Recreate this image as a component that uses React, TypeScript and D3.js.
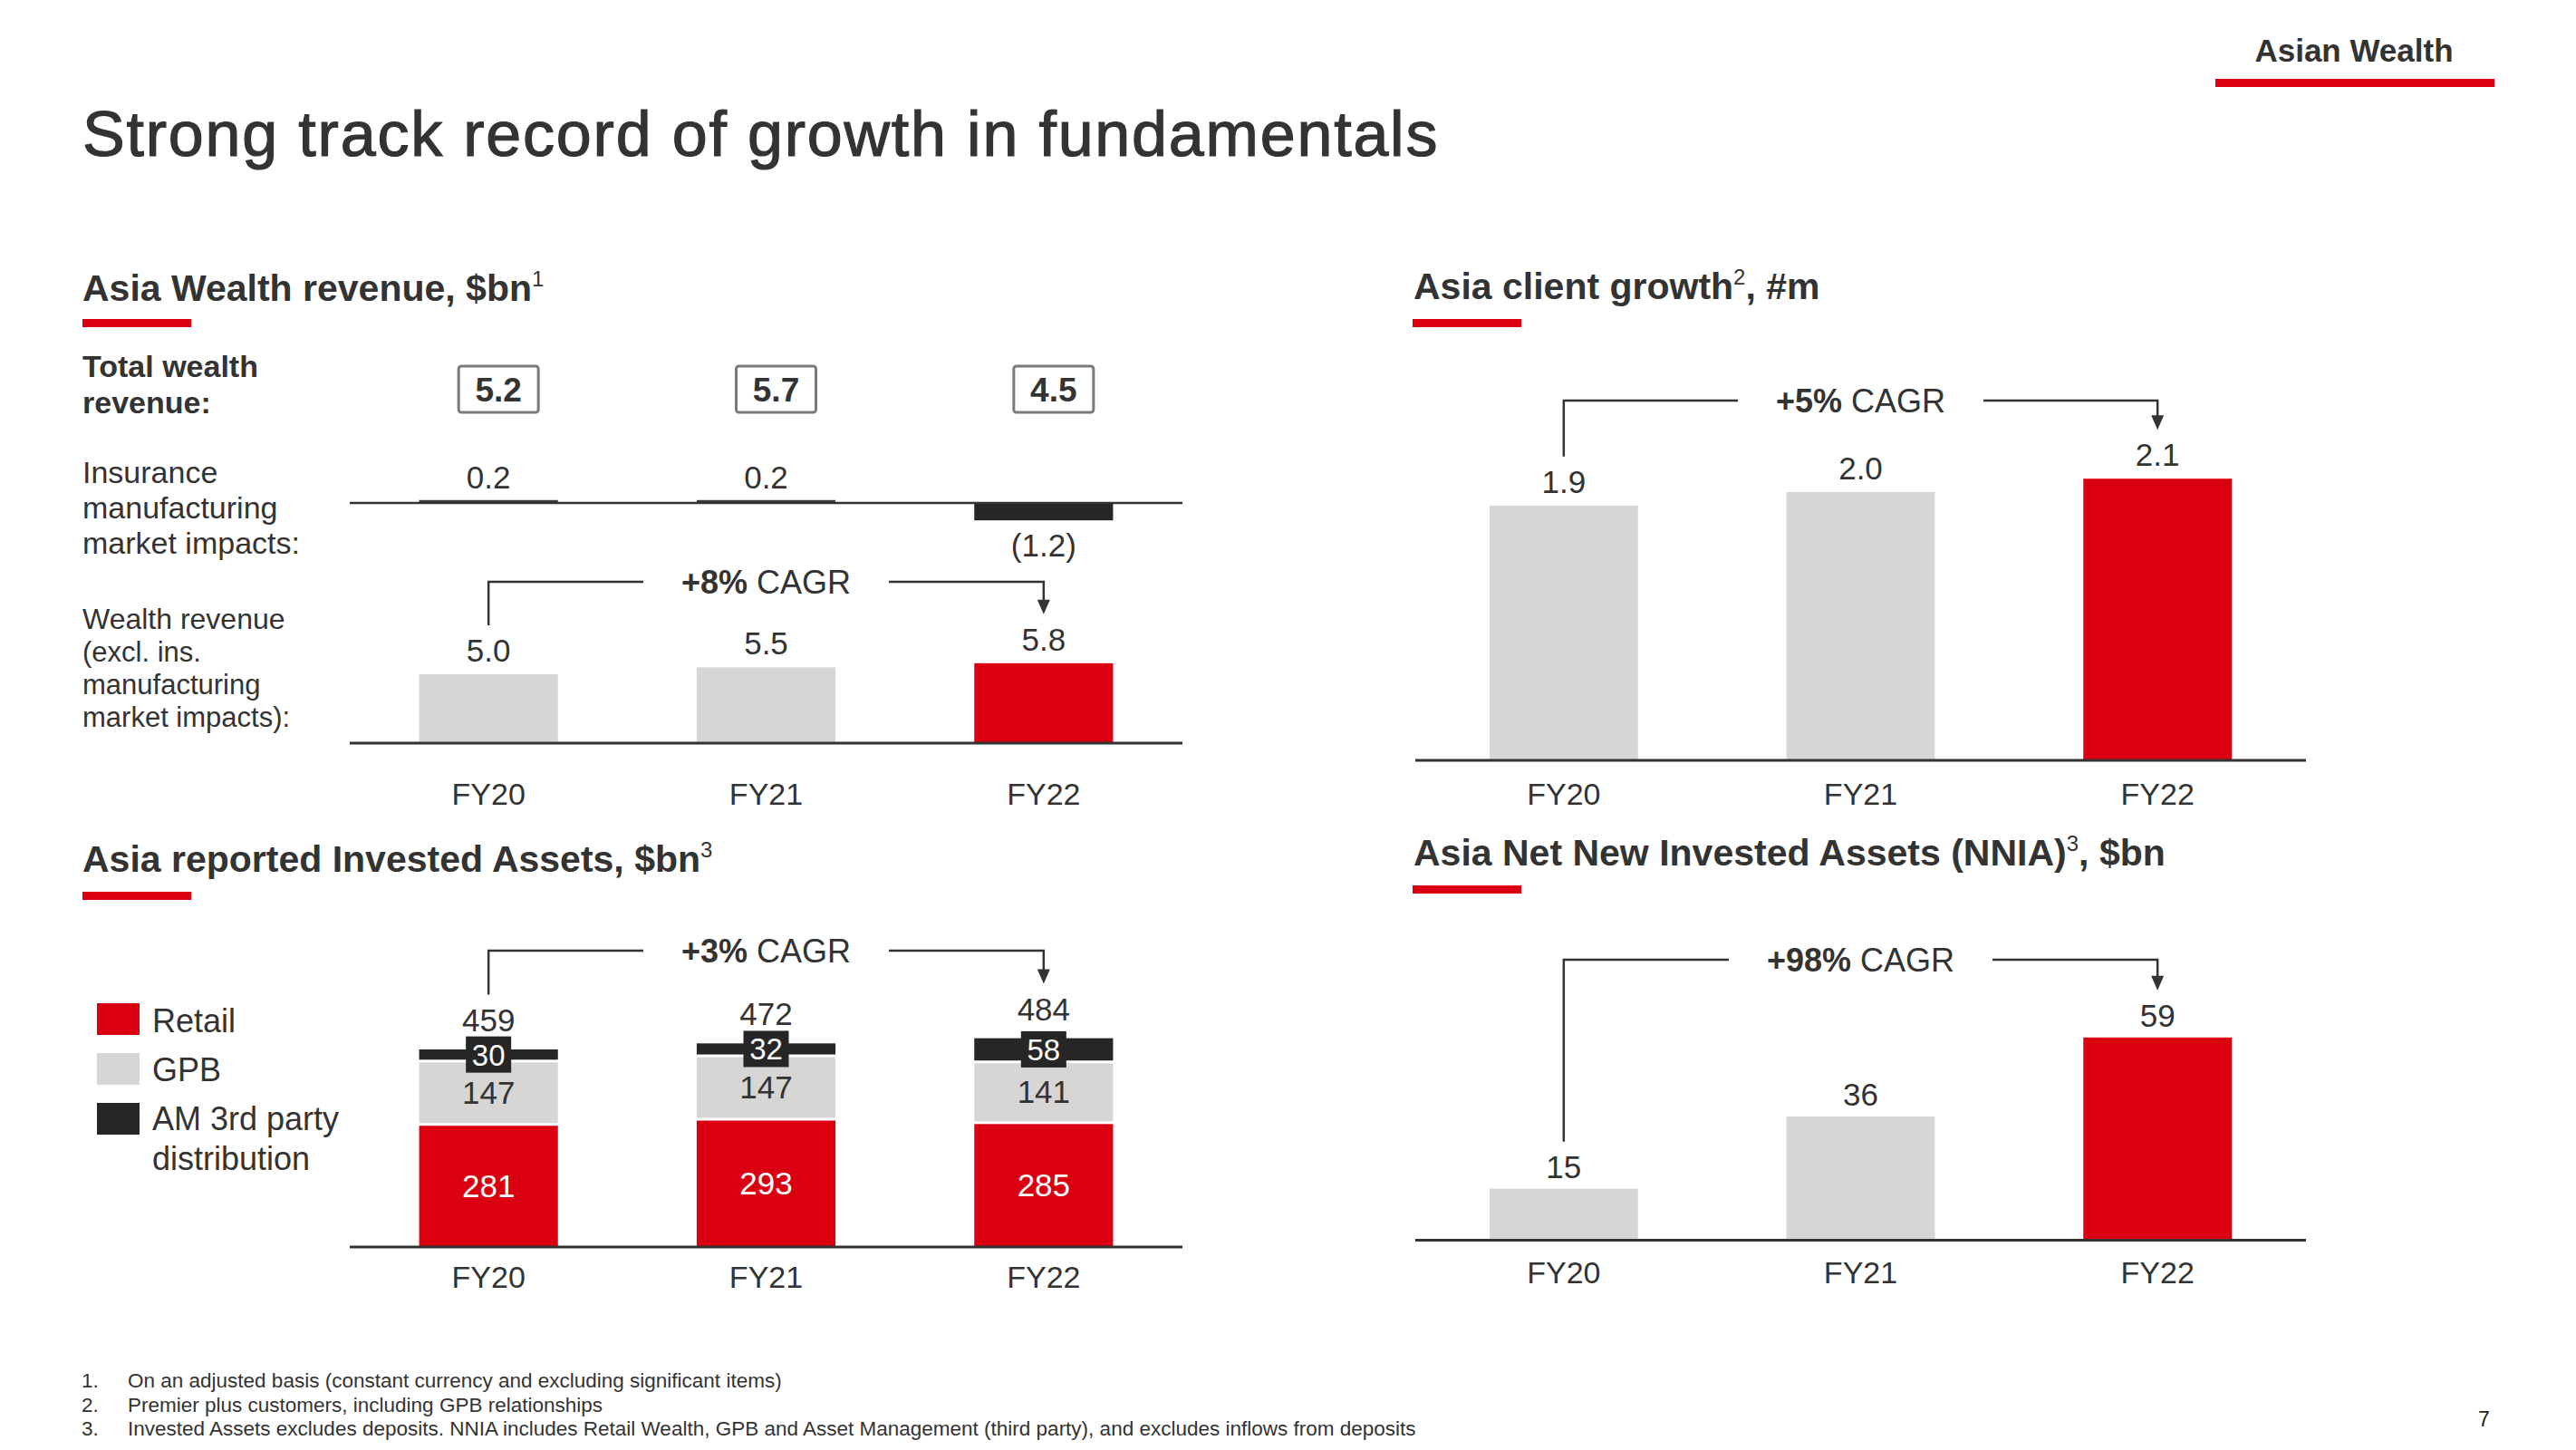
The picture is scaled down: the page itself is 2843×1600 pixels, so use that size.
import React, { useEffect, useRef } from 'react';
import * as d3 from 'd3';

// ---------------- DATA ----------------
const YEARS = ['FY20', 'FY21', 'FY22'];
const TOTAL_WEALTH_REVENUE = [5.2, 5.7, 4.5];
const INSURANCE_IMPACTS = [0.2, 0.2, -1.2];
const WEALTH_REVENUE_EXCL = [5.0, 5.5, 5.8];
const CLIENTS_M = [1.9, 2.0, 2.1];
const IA_RETAIL = [281, 293, 285];
const IA_GPB = [147, 147, 141];
const IA_AM = [30, 32, 58];
const IA_TOTAL = [459, 472, 484];
const NNIA = [15, 36, 59];
const CAGR_REVENUE = '+8%';
const CAGR_CLIENTS = '+5%';
const CAGR_IA = '+3%';
const CAGR_NNIA = '+98%';
const IA_SERIES = ['Retail', 'GPB', 'AM 3rd party distribution'];
const FOOTNOTES = [
  'On an adjusted basis (constant currency and excluding significant items)',
  'Premier plus customers, including GPB relationships',
  'Invested Assets excludes deposits. NNIA includes Retail Wealth, GPB and Asset Management (third party), and excludes inflows from deposits',
];

// ---------------- STYLE ----------------
const W = 2843;
const H = 1600;
const FONT = "'Liberation Sans', Arial, Helvetica, sans-serif";
const RED = '#DB0011';
const GREY = '#D7D6D5';
const DARK = '#262626';
const TEXT = '#333333';

export default function App() {
  const ref = useRef<SVGSVGElement | null>(null);

  useEffect(() => {
    document.body.style.margin = '0';
    const svg = d3.select(ref.current);
    svg.selectAll('*').remove();

    const txt = (
      g: any,
      x: number,
      y: number,
      s: string,
      size: number,
      opts: { weight?: number | string; anchor?: string; fill?: string } = {}
    ) =>
      g
        .append('text')
        .attr('x', x)
        .attr('y', y)
        .attr('font-family', FONT)
        .attr('font-size', size)
        .attr('font-weight', opts.weight ?? 400)
        .attr('text-anchor', opts.anchor ?? 'start')
        .attr('fill', opts.fill ?? TEXT)
        .text(s);

    // heading with superscript
    const heading = (x: number, y: number, parts: [string, boolean][]) => {
      const t = svg
        .append('text')
        .attr('x', x)
        .attr('y', y)
        .attr('font-family', FONT)
        .attr('font-size', 41)
        .attr('font-weight', 700)
        .attr('fill', TEXT);
      parts.forEach(([s, sup]) => {
        if (sup) {
          t.append('tspan').attr('font-size', 24).attr('font-weight', 400).attr('dy', -16).text(s);
        } else {
          const ts = t.append('tspan').text(s);
          if (t.selectAll('tspan').size() > 1) ts.attr('dy', 16);
        }
      });
    };
    const underline = (x: number, y: number) =>
      svg.append('rect').attr('x', x).attr('y', y).attr('width', 120).attr('height', 9).attr('fill', RED);

    const fmt1 = (v: number) => (v < 0 ? `(${d3.format('.1f')(-v)})` : d3.format('.1f')(v));

    // CAGR bracket
    const bracket = (
      x0: number,
      x1: number,
      yLine: number,
      yLeftEnd: number,
      yTip: number,
      bold: string
    ) => {
      const g = svg.append('g');
      const cx = (x0 + x1) / 2;
      const t = g
        .append('text')
        .attr('x', cx)
        .attr('y', yLine + 13)
        .attr('font-family', FONT)
        .attr('font-size', 36)
        .attr('text-anchor', 'middle')
        .attr('fill', TEXT);
      t.append('tspan').attr('font-weight', 700).text(bold);
      t.append('tspan').text(' CAGR');
      const tw = (t.node() as SVGTextElement).getComputedTextLength();
      const gap = tw / 2 + 42;
      const line = d3.line();
      g.append('path')
        .attr('d', line([[x0, yLeftEnd], [x0, yLine], [cx - gap, yLine]]))
        .attr('fill', 'none')
        .attr('stroke', TEXT)
        .attr('stroke-width', 2.5);
      g.append('path')
        .attr('d', line([[cx + gap, yLine], [x1, yLine], [x1, yTip - 14]]))
        .attr('fill', 'none')
        .attr('stroke', TEXT)
        .attr('stroke-width', 2.5);
      g.append('path')
        .attr('d', `M${x1 - 7},${yTip - 16}L${x1 + 7},${yTip - 16}L${x1},${yTip}Z`)
        .attr('fill', TEXT);
    };

    const axisLine = (x0: number, x1: number, y: number) =>
      svg
        .append('line')
        .attr('x1', x0)
        .attr('x2', x1)
        .attr('y1', y)
        .attr('y2', y)
        .attr('stroke', TEXT)
        .attr('stroke-width', 3);

    const barColor = (i: number) => (i === YEARS.length - 1 ? RED : GREY);

    // ---------------- Page header ----------------
    txt(svg, 91, 172, 'Strong track record of growth in fundamentals', 70, { weight: 400 })
      .attr('letter-spacing', 1.8)
      .attr('stroke', TEXT)
      .attr('stroke-width', 1.2);
    txt(svg, 2598, 68, 'Asian Wealth', 35, { weight: 700, anchor: 'middle' });
    svg.append('rect').attr('x', 2445).attr('y', 87).attr('width', 308).attr('height', 9).attr('fill', RED);

    // ---------------- Panel A: Asia Wealth revenue ----------------
    heading(91, 332, [['Asia Wealth revenue, $bn', false], ['1', true]]);
    underline(91, 352);
    const xA = d3.scaleBand<string>().domain(YEARS).range([386, 1305]).paddingInner(0.5).paddingOuter(0.25);
    const cA = (d: string) => (xA(d) as number) + xA.bandwidth() / 2;

    txt(svg, 91, 416, 'Total wealth', 34, { weight: 700 });
    txt(svg, 91, 456, 'revenue:', 34, { weight: 700 });
    YEARS.forEach((yr, i) => {
      const cx = cA(yr) + 11;
      svg
        .append('rect')
        .attr('x', cx - 44)
        .attr('y', 404)
        .attr('width', 88)
        .attr('height', 51)
        .attr('rx', 3)
        .attr('fill', '#fff')
        .attr('stroke', '#7a7a7a')
        .attr('stroke-width', 3);
      txt(svg, cx, 443, fmt1(TOTAL_WEALTH_REVENUE[i]), 37, { weight: 700, anchor: 'middle' });
    });

    // Insurance manufacturing market impacts
    ['Insurance', 'manufacturing', 'market impacts:'].forEach((s, i) => txt(svg, 91, 533 + i * 39, s, 34));
    const yIns = d3.scaleLinear().domain([0, 10]).range([555, 395]);
    YEARS.forEach((yr, i) => {
      const v = INSURANCE_IMPACTS[i];
      const y0 = yIns(Math.max(0, v));
      const y1 = yIns(Math.min(0, v));
      svg
        .append('rect')
        .attr('x', xA(yr) as number)
        .attr('width', xA.bandwidth())
        .attr('y', y0)
        .attr('height', y1 - y0)
        .attr('fill', v < 0 ? DARK : '#3a3a3a');
      txt(svg, cA(yr), v >= 0 ? yIns(v) - 13 : yIns(v) + 40, fmt1(v), 35, { anchor: 'middle' });
    });
    axisLine(386, 1305, 555).attr('stroke-width', 2.5);

    // Wealth revenue excl.
    txt(svg, 91, 694, 'Wealth revenue', 32);
    ['(excl. ins.', 'manufacturing', 'market impacts):'].forEach((s, i) => txt(svg, 91, 730 + i * 36, s, 31));
    const yWR = d3.scaleLinear().domain([0, 10]).range([820, 668]);
    YEARS.forEach((yr, i) => {
      svg
        .append('rect')
        .attr('x', xA(yr) as number)
        .attr('width', xA.bandwidth())
        .attr('y', yWR(WEALTH_REVENUE_EXCL[i]))
        .attr('height', yWR(0) - yWR(WEALTH_REVENUE_EXCL[i]))
        .attr('fill', barColor(i));
      txt(svg, cA(yr), yWR(WEALTH_REVENUE_EXCL[i]) - 14, fmt1(WEALTH_REVENUE_EXCL[i]), 35, { anchor: 'middle' });
      txt(svg, cA(yr), 888, yr, 34, { anchor: 'middle' });
    });
    axisLine(386, 1305, 820);
    {
      const lf = yWR(WEALTH_REVENUE_EXCL[0]) - 14;
      const ll = yWR(WEALTH_REVENUE_EXCL[2]) - 14;
      bracket(cA(YEARS[0]), cA(YEARS[2]), 642, lf - 40, ll - 40, CAGR_REVENUE);
    }

    // ---------------- Panel B: Asia client growth ----------------
    heading(1560, 330, [['Asia client growth', false], ['2', true], [', #m', false]]);
    underline(1559, 352);
    const xB = d3.scaleBand<string>().domain(YEARS).range([1562, 2545]).paddingInner(0.5).paddingOuter(0.25);
    const cB = (d: string) => (xB(d) as number) + xB.bandwidth() / 2;
    const yB = d3.scaleLinear().domain([0, 2]).range([839, 543]);
    YEARS.forEach((yr, i) => {
      svg
        .append('rect')
        .attr('x', xB(yr) as number)
        .attr('width', xB.bandwidth())
        .attr('y', yB(CLIENTS_M[i]))
        .attr('height', yB(0) - yB(CLIENTS_M[i]))
        .attr('fill', barColor(i));
      txt(svg, cB(yr), yB(CLIENTS_M[i]) - 14, fmt1(CLIENTS_M[i]), 35, { anchor: 'middle' });
      txt(svg, cB(yr), 888, yr, 34, { anchor: 'middle' });
    });
    axisLine(1562, 2545, 839);
    bracket(cB(YEARS[0]), cB(YEARS[2]), 442, yB(CLIENTS_M[0]) - 54, yB(CLIENTS_M[2]) - 54, CAGR_CLIENTS);

    // ---------------- Panel C: Asia reported Invested Assets ----------------
    heading(91, 962, [['Asia reported Invested Assets, $bn', false], ['3', true]]);
    underline(91, 984);
    const yC = d3.scaleLinear().domain([0, 500]).range([1376, 1138]);
    const rows = YEARS.map((yr, i) => ({ yr, retail: IA_RETAIL[i], gpb: IA_GPB[i], am: IA_AM[i] }));
    const stack = d3.stack<any>().keys(['retail', 'gpb', 'am'])(rows);
    const segFill = [RED, GREY, DARK];
    const segText = ['#fff', TEXT, '#fff'];
    stack.forEach((layer, li) => {
      layer.forEach((d, i) => {
        const yr = YEARS[i];
        const yTop = yC(d[1]);
        const yBot = yC(d[0]) - (li > 0 ? 3 : 0);
        svg
          .append('rect')
          .attr('x', xA(yr) as number)
          .attr('width', xA.bandwidth())
          .attr('y', yTop)
          .attr('height', yBot - yTop)
          .attr('fill', segFill[li]);
      });
    });
    stack.forEach((layer, li) => {
      layer.forEach((d, i) => {
        const yr = YEARS[i];
        const mid = (yC(d[1]) + yC(d[0]) - (li > 0 ? 3 : 0)) / 2;
        if (li === 2) {
          svg
            .append('rect')
            .attr('x', cA(yr) - 25)
            .attr('y', mid - 20)
            .attr('width', 50)
            .attr('height', 40)
            .attr('fill', DARK);
        }
        txt(svg, cA(yr), mid + 12, String(d[1] - d[0]), li === 2 ? 33 : 35, {
          anchor: 'middle',
          fill: segText[li],
        });
      });
    });
    YEARS.forEach((yr, i) => {
      txt(svg, cA(yr), yC(IA_TOTAL[i]) - 20, String(IA_TOTAL[i]), 35, { anchor: 'middle' });
      txt(svg, cA(yr), 1421, yr, 34, { anchor: 'middle' });
    });
    axisLine(386, 1305, 1376);
    bracket(cA(YEARS[0]), cA(YEARS[2]), 1049, yC(IA_TOTAL[0]) - 60, yC(IA_TOTAL[2]) - 60, CAGR_IA);

    // legend
    IA_SERIES.forEach((name, i) => {
      svg
        .append('rect')
        .attr('x', 107)
        .attr('y', 1107 + i * 55)
        .attr('width', 47)
        .attr('height', 35)
        .attr('fill', segFill[i]);
    });
    txt(svg, 168, 1139, 'Retail', 36);
    txt(svg, 168, 1193, 'GPB', 36);
    txt(svg, 168, 1247, 'AM 3rd party', 36);
    txt(svg, 168, 1291, 'distribution', 36);

    // ---------------- Panel D: Asia NNIA ----------------
    heading(1560, 955, [['Asia Net New Invested Assets (NNIA)', false], ['3', true], [', $bn', false]]);
    underline(1559, 977);
    const yD = d3.scaleLinear().domain([0, 60]).range([1368.5, 1141]);
    YEARS.forEach((yr, i) => {
      svg
        .append('rect')
        .attr('x', xB(yr) as number)
        .attr('width', xB.bandwidth())
        .attr('y', yD(NNIA[i]))
        .attr('height', yD(0) - yD(NNIA[i]))
        .attr('fill', barColor(i));
      txt(svg, cB(yr), yD(NNIA[i]) - 12, String(NNIA[i]), 35, { anchor: 'middle' });
      txt(svg, cB(yr), 1416, yr, 34, { anchor: 'middle' });
    });
    axisLine(1562, 2545, 1368.5);
    bracket(cB(YEARS[0]), cB(YEARS[2]), 1059, yD(NNIA[0]) - 52, yD(NNIA[2]) - 52, CAGR_NNIA);

    // ---------------- Footnotes ----------------
    FOOTNOTES.forEach((s, i) => {
      txt(svg, 90, 1531 + i * 26.5, `${i + 1}.`, 22.5);
      txt(svg, 141, 1531 + i * 26.5, s, 22.5);
    });
    txt(svg, 2735, 1574, '7', 23, { fill: '#222' });
  }, []);

  return (
    <svg
      ref={ref}
      width={W}
      height={H}
      viewBox={`0 0 ${W} ${H}`}
      style={{ position: 'absolute', left: 0, top: 0, display: 'block', background: '#fff' }}
    />
  );
}
